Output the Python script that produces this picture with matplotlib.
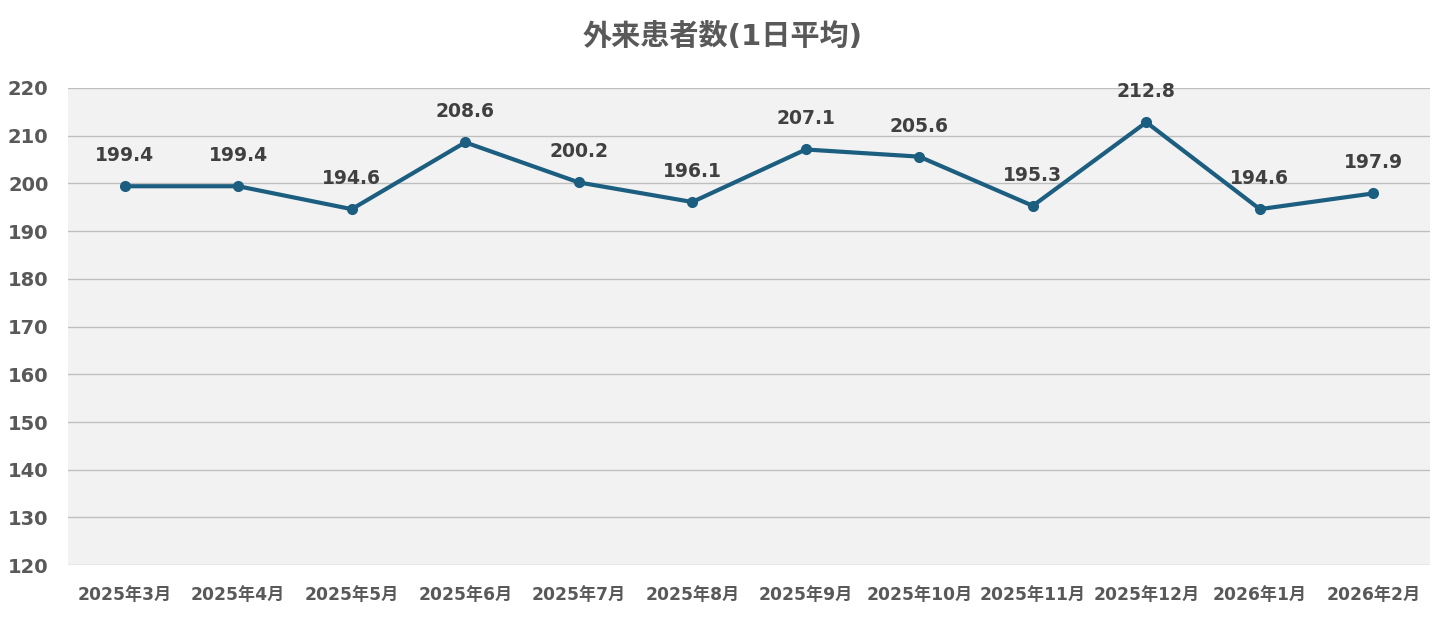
import matplotlib
matplotlib.use("Agg")
import matplotlib.pyplot as plt

plt.rcParams['font.family'] = ['DejaVu Sans', 'Noto Sans CJK JP']

# monthly outpatient counts (daily average)
months = ["2025年3月", "2025年4月", "2025年5月", "2025年6月", "2025年7月", "2025年8月",
          "2025年9月", "2025年10月", "2025年11月", "2025年12月", "2026年1月", "2026年2月"]
values = [199.4, 199.4, 194.6, 208.6, 200.2, 196.1, 207.1, 205.6, 195.3, 212.8, 194.6, 197.9]
yticks = [120, 130, 140, 150, 160, 170, 180, 190, 200, 210, 220]

line_color = "#1B5E80"

fig = plt.figure(figsize=(14.46, 6.28), dpi=100)
ax = fig.add_axes([0.047, 0.1, 0.942, 0.76])
ax.set_facecolor("#F2F2F2")

x = list(range(len(months)))
ax.plot(x, values, color=line_color, linewidth=3, marker="o", markersize=7, zorder=3)

for xi, v in zip(x, values):
    ax.annotate(f"{v:.1f}", (xi, v), xytext=(0, 22), textcoords="offset points",
                ha="center", va="center", fontsize=13.5, fontweight="bold", color="#404040")

ax.set_xlim(-0.5, len(months) - 0.5)
ax.set_ylim(120, 220)
ax.set_yticks(yticks)
ax.set_xticks(x)
ax.set_xticklabels(months)
ax.grid(axis="y", color="#BFBFBF", linewidth=1)
ax.set_axisbelow(True)
for s in ax.spines.values():
    s.set_visible(False)
ax.tick_params(axis="both", length=0, colors="#595959")
ax.tick_params(axis="x", pad=15, labelsize=12.3)
ax.tick_params(axis="y", pad=14, labelsize=14)
for lab in ax.get_xticklabels() + ax.get_yticklabels():
    lab.set_fontweight("bold")

fig.suptitle("外来患者数(1日平均)", x=0.5, y=0.941, va="center", fontsize=21,
             fontweight="bold", color="#595959")

fig.savefig("out.png", dpi=100)
